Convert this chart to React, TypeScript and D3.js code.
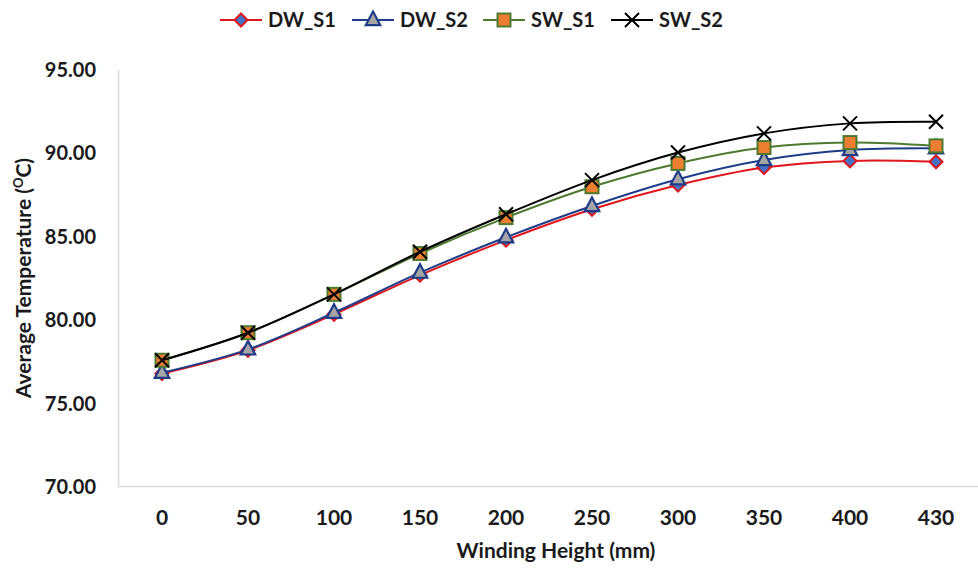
import React from 'react'
import * as d3 from 'd3'

// winding height categories (x axis is categorical, 430 sits at the same spacing)
const heights = ['0', '50', '100', '150', '200', '250', '300', '350', '400', '430']

const dwS1 = [76.8, 78.2, 80.35, 82.7, 84.8, 86.65, 88.1, 89.15, 89.55, 89.5]
const dwS2 = [76.85, 78.25, 80.45, 82.85, 84.97, 86.85, 88.45, 89.6, 90.2, 90.3]
const swS1 = [77.6, 79.25, 81.55, 84.0, 86.15, 88.0, 89.4, 90.35, 90.65, 90.45]
const swS2 = [77.6, 79.25, 81.55, 84.1, 86.35, 88.4, 90.05, 91.2, 91.8, 91.9]

const yTicks = [70, 75, 80, 85, 90, 95]

const series = [
    { name: 'DW_S1', values: dwS1, line: '#E0161B', marker: 'diamond', fill: '#4472C4', stroke: '#E0161B' },
    { name: 'DW_S2', values: dwS2, line: '#1F3C88', marker: 'triangle', fill: '#A5A5A5', stroke: '#1F3C88' },
    { name: 'SW_S1', values: swS1, line: '#4E7A2F', marker: 'square', fill: '#ED7D31', stroke: '#4E7A2F' },
    { name: 'SW_S2', values: swS2, line: '#000000', marker: 'cross', fill: 'none', stroke: '#000000' },
]

const W = 978
const H = 568
const left = 119
const right = 979
const top = 70
const bottom = 487
const font = 'Lato, "Open Sans", sans-serif'

function Marker({ type, x, y, fill, stroke }) {
    if (type === 'diamond') {
        const r = 6.5
        return <path d={`M${x},${y - r}L${x + r},${y}L${x},${y + r}L${x - r},${y}Z`} fill={fill} stroke={stroke} strokeWidth={2} />
    }
    if (type === 'triangle') {
        const r = 8.5
        return <path d={`M${x},${y - r}L${x + r * 0.85},${y + r * 0.6}L${x - r * 0.85},${y + r * 0.6}Z`} fill={fill} stroke={stroke} strokeWidth={2.2} />
    }
    if (type === 'square') {
        const s = 6.5
        return <rect x={x - s} y={y - s} width={s * 2} height={s * 2} fill={fill} stroke={stroke} strokeWidth={2} />
    }
    const c = 7
    return <path d={`M${x - c},${y - c}L${x + c},${y + c}M${x - c},${y + c}L${x + c},${y - c}`} stroke={stroke} strokeWidth={2} fill="none" />
}

export default function App() {
    const x = d3.scalePoint().domain(heights).range([left, right]).padding(0.5)
    const y = d3.scaleLinear().domain([70, 95]).range([bottom, top])

    const line = d3.line()
        .x((d, i) => x(heights[i]))
        .y((d) => y(d))
        .curve(d3.curveCardinal.tension(0))

    const legendX = [220, 352, 483, 611]

    return (
        <svg width={W} height={H} style={{ position: 'absolute', left: 0, top: 0, background: '#fff' }}>
            {/* axes */}
            <line x1={left - 0.5} x2={left - 0.5} y1={top} y2={bottom} stroke="#D9D9D9" strokeWidth={1.5} />
            <line x1={left - 0.5} x2={W} y1={bottom - 0.5} y2={bottom - 0.5} stroke="#D9D9D9" strokeWidth={1.5} />

            {yTicks.map((t) => (
                <text key={t} x={96} y={y(t)} dy="0.35em" textAnchor="end" fontFamily={font} fontWeight="bold" fontSize={20} fill="#1a1a1a">
                    {t.toFixed(2)}
                </text>
            ))}
            {heights.map((h) => (
                <text key={h} x={x(h)} y={518} dy="0.35em" textAnchor="middle" fontFamily={font} fontWeight="bold" fontSize={21} fill="#1a1a1a">
                    {h}
                </text>
            ))}

            <text x={556} y={551} dy="0.35em" textAnchor="middle" fontFamily={font} fontWeight="bold" fontSize={21} fill="#1a1a1a">
                Winding Height (mm)
            </text>
            <text transform="translate(24,278) rotate(-90)" textAnchor="middle" dy="0.35em" fontFamily={font} fontWeight="bold" fontSize={21} fill="#1a1a1a">
                Average Temperature (<tspan fontSize={13} dy="-8">O</tspan><tspan dy="8">C)</tspan>
            </text>

            {/* series */}
            {series.map((s) => (
                <g key={s.name}>
                    <path d={line(s.values)} fill="none" stroke={s.line} strokeWidth={2} />
                    {s.values.map((v, i) => (
                        <Marker key={i} type={s.marker} x={x(heights[i])} y={y(v)} fill={s.fill} stroke={s.stroke} />
                    ))}
                </g>
            ))}

            {/* legend */}
            {series.map((s, i) => (
                <g key={s.name}>
                    <line x1={legendX[i]} x2={legendX[i] + 42} y1={20} y2={20} stroke={s.line} strokeWidth={2} />
                    <Marker type={s.marker} x={legendX[i] + 21} y={20} fill={s.fill} stroke={s.stroke} />
                    <text x={legendX[i] + 48} y={20} dy="0.35em" fontFamily={font} fontWeight="bold" fontSize={20} fill="#1a1a1a">
                        {s.name}
                    </text>
                </g>
            ))}
        </svg>
    )
}
